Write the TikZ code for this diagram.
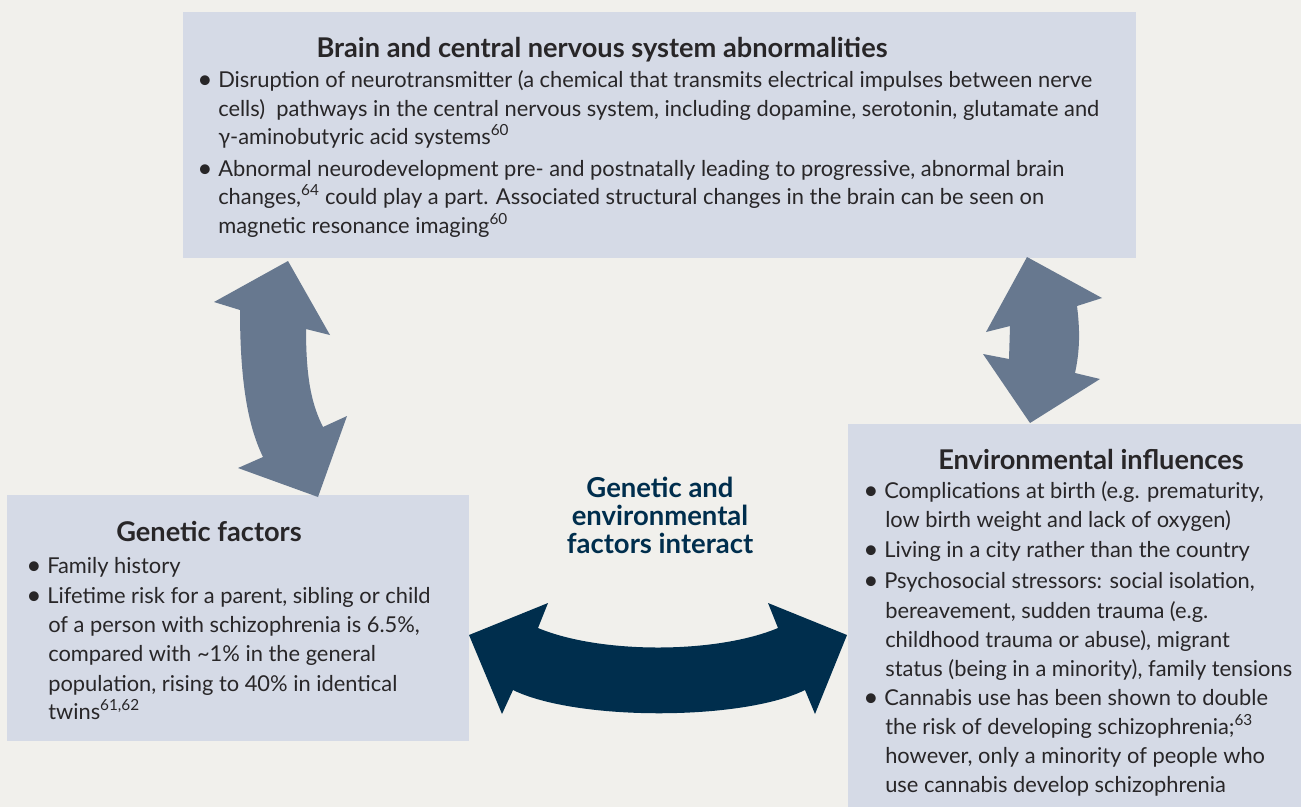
\documentclass[tikz,border=0pt]{standalone}
\usepackage{fontspec}
\setmainfont{Lato}
\usepackage{xcolor}
\usepackage{tikz}

\definecolor{bgcol}{RGB}{241,240,236}
\definecolor{boxcol}{RGB}{213,218,230}
\definecolor{slate}{RGB}{103,120,143}
\definecolor{navy}{RGB}{0,46,77}
\definecolor{txtcol}{RGB}{40,38,40}

\newcommand{\bul}{\makebox[15.75pt][l]{\raisebox{-1.4pt}{\scalebox{1.2}{\textbullet}}}}

\tikzset{
  body/.style={anchor=base west, inner sep=0pt, text=txtcol, font=\fontsize{16.4}{19}\selectfont},
  boxtitle/.style={anchor=base, inner sep=0pt, text=txtcol, font=\fontsize{20.4}{24}\selectfont\bfseries},
  midlabel/.style={anchor=base, inner sep=0pt, text=navy, font=\fontsize{20.6}{24}\selectfont\bfseries},
}

\begin{document}
\begin{tikzpicture}[x=0.75pt,y=0.75pt,yscale=-1,xscale=1]
		%set diagram size 1301 x 807
		\path [fill=bgcol, use as bounding box] (0,0) rectangle (1301,807);
		
		%Shape: Rectangle [brain box]
		\fill [boxcol] (183,12) rectangle (1136,258);
		%Shape: Rectangle [genetic box]
		\fill [boxcol] (7,495) rectangle (469,741);
		%Shape: Rectangle [environment box]
		\fill [boxcol] (848,424) rectangle (1301,807);
		
		%Shape: Up Down Arrow [left]
		\fill [slate] (288,261) -- (330,335) -- (306,329) .. controls (306,380) and (312,405) .. (323,427) -- (347,416) -- (318,497) -- (238,468) -- (263,457) .. controls (250,430) and (240,390) .. (240,310) -- (214,302) -- cycle ;
		%Shape: Up Down Arrow [right]
		\fill [slate] (1027,257) -- (1102,298) -- (1077,306) .. controls (1080,330) and (1080,350) .. (1075,373) -- (1100,379) -- (1030,423) -- (983,354) -- (1009,359) -- (1010,326) -- (986,332) -- cycle ;
		%Shape: Left Right Arrow [bottom]
		\fill [navy] (469,635) -- (548,603) -- (538,628) .. controls (600,654) and (716,654) .. (778,628) -- (768,603) -- (847,635) -- (815,714) -- (805,690) .. controls (742,721) and (576,721) .. (513,690) -- (502,714) -- cycle ;
		
		% Text Node
		\draw (602,57) node [boxtitle] (brainT) {Brain and central nervous system abnormalities};
		% Text Node
		\draw (197,87) node [body] (brain1) {\bul Disruption of neurotransmitter (a chemical that transmits electrical impulses between nerve};
		\draw (218,116) node [body] (brain2) {cells)\ \ pathways in the central nervous system, including dopamine, serotonin, glutamate and};
		\draw (218,144) node [body] (brain3) {γ-aminobutyric acid systems\textsuperscript{60}};
		% Text Node
		\draw (197,176) node [body] (brain4) {\bul Abnormal neurodevelopment pre- and postnatally leading to progressive, abnormal brain};
		\draw (218,204) node [body] (brain5) {changes,\textsuperscript{64} could play a part. Associated structural changes in the brain can be seen on};
		\draw (218,233) node [body] (brain6) {magnetic resonance imaging\textsuperscript{60}};
		
		% Text Node
		\draw (209,541) node [boxtitle] (genT) {Genetic factors};
		% Text Node
		\draw (26,573) node [body] (gen1) {\bul Family history};
		% Text Node
		\draw (26,603) node [body] (gen2) {\bul Lifetime risk for a parent, sibling or child};
		\draw (48,632) node [body] (gen3) {of a person with schizophrenia is 6.5\%,};
		\draw (48,661) node [body] (gen4) {compared with \textasciitilde1\% in the general};
		\draw (48,691) node [body] (gen5) {population, rising to 40\% in identical};
		\draw (48,719) node [body] (gen6) {twins\textsuperscript{61,62}};
		
		% Text Node
		\draw (1091,469) node [boxtitle] (envT) {Environmental influences};
		% Text Node
		\draw (863,498) node [body] (env1) {\bul Complications at birth (e.g. prematurity,};
		\draw (885,527) node [body] (env2) {low birth weight and lack of oxygen)};
		% Text Node
		\draw (863,557) node [body] (env3) {\bul Living in a city rather than the country};
		% Text Node
		\draw (863,588) node [body] (env4) {\bul Psychosocial stressors: social isolation,};
		\draw (885,618) node [body] (env5) {bereavement, sudden trauma (e.g.};
		\draw (885,647) node [body] (env6) {childhood trauma or abuse), migrant};
		\draw (885,676) node [body] (env7) {status (being in a minority), family tensions};
		% Text Node
		\draw (863,705) node [body] (env8) {\bul Cannabis use has been shown to double};
		\draw (885,734) node [body] (env9) {the risk of developing schizophrenia;\textsuperscript{63}};
		\draw (885,763) node [body] (env10) {however, only a minority of people who};
		\draw (885,792) node [body] (env11) {use cannabis develop schizophrenia};
		
		% Text Node
		\draw (660,497) node [midlabel] (mid1) {Genetic and};
		\draw (660,525) node [midlabel] (mid2) {environmental};
		\draw (660,553) node [midlabel] (mid3) {factors interact};
		
\end{tikzpicture}
\end{document}
